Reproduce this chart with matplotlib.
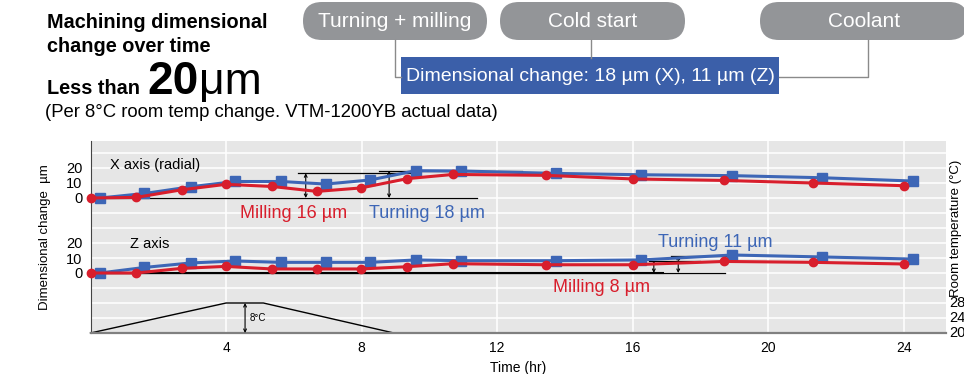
import matplotlib
matplotlib.use("Agg")
import matplotlib.pyplot as plt
from matplotlib.patches import FancyBboxPatch, Rectangle

plt.rcParams['font.family'] = ['Liberation Sans', 'DejaVu Sans']

# data (hours, micrometres, deg C)
hours_turn = [0.28, 1.59, 2.96, 4.27, 5.62, 6.94, 8.25, 9.59, 10.94, 13.72, 16.24, 18.94, 21.59, 24.27]
hours_mill = [0.0, 1.35, 2.70, 3.99, 5.35, 6.68, 7.98, 9.34, 10.70, 13.44, 16.00, 18.70, 21.32, 24.00]
x_turn = [0, 3, 7.5, 11, 11, 9.3, 12, 18.2, 18, 16.4, 15.5, 14.9, 13.5, 11.3]
x_mill = [0, 0.4, 5.5, 9.1, 7.7, 4.4, 6.7, 12.9, 15.7, 15.1, 12.7, 11.7, 10, 8.2]
z_turn = [0, 3.7, 6.7, 8, 7.1, 7.1, 7.1, 8.7, 8.2, 8.2, 8.7, 12, 10.7, 9.3]
z_mill = [0, 0, 3.1, 4.4, 2.7, 2.7, 2.7, 4.2, 6.2, 5.5, 5.5, 7.7, 7.1, 6]
temp_hours = [0, 4, 5.1, 8.95]
temp_c = [20, 28, 28, 20]
xticks = [4, 8, 12, 16, 20, 24]
temp_ticks = [20, 24, 28]

pills = ["Turning + milling", "Cold start", "Coolant"]

RED = "#d81e2c"
BLUE = "#3d66b6"
X_OFF = 90    # where the X-axis panel sits on the shared y scale
Z_OFF = 40


def temp_y(t):
    return (t - 20) * 2.5


fig = plt.figure(figsize=(9.64, 3.74), dpi=100)

# ---- header drawn in pixel coordinates ----
hd = fig.add_axes([0, 0, 1, 1])
hd.set_xlim(0, 964)
hd.set_ylim(374, 0)
hd.axis("off")

hd.text(47, 27.5, "Machining dimensional", fontsize=14.3, fontweight="bold", va="baseline")
hd.text(47, 52, "change over time", fontsize=14.3, fontweight="bold", va="baseline")
hd.text(47, 94, "Less than", fontsize=14.3, fontweight="bold", va="baseline")
hd.text(147, 94, "20", fontsize=33, fontweight="bold", va="baseline")
hd.text(199, 94, "μm", fontsize=32, va="baseline")
hd.text(45, 117, "(Per 8°C room temp change. VTM-1200YB actual data)", fontsize=13.35, va="baseline")

pill_x = [(303, 487), (500, 685), (760, 968)]
for (x0, x1), name in zip(pill_x, pills):
    hd.add_patch(FancyBboxPatch((x0, 2), x1 - x0, 38,
                                boxstyle="round,pad=0,rounding_size=19",
                                fc="#939598", ec="none"))
    hd.text((x0 + x1) / 2, 21.5, name, color="white", fontsize=15, ha="center", va="center")

gray = "#8a8a8a"
hd.plot([395, 395, 401], [40, 76.7, 76.7], color=gray, lw=1)
hd.plot([590.7, 590.7], [40, 58], color=gray, lw=1)
hd.plot([868.3, 868.3, 779], [40, 76.7, 76.7], color=gray, lw=1)
hd.add_patch(Rectangle((400.7, 57.3), 378.3, 37, fc="#3b5fa9", ec="none"))
hd.text(590.5, 76.5, "Dimensional change: 18 µm (X), 11 µm (Z)", color="white",
        fontsize=14, ha="center", va="center")

# ---- main chart ----
ax = fig.add_axes([90.5 / 964, 41 / 374, (946 - 90.5) / 964, 192 / 374])
ax.set_facecolor("#e6e6e6")
ax.set_xlim(0, 25.24)
ax.set_ylim(0, 128)

for v in range(10, 128, 10):
    ax.axhline(v, color="white", lw=1.1, zorder=0)
for v in xticks:
    ax.axvline(v, color="white", lw=1.1, zorder=0)

ax.set_xticks(xticks)
ax.set_xticklabels([str(v) for v in xticks], fontsize=10)
ax.set_yticks([Z_OFF, Z_OFF + 10, Z_OFF + 20, X_OFF, X_OFF + 10, X_OFF + 20])
ax.set_yticklabels(["0", "10", "20", "0", "10", "20"], fontsize=10.5)
ax.tick_params(length=0)
ax.tick_params(axis="y", pad=6)
ax.tick_params(axis="x", pad=6)
for s in ["top", "right"]:
    ax.spines[s].set_visible(False)
ax.spines["left"].set_color("#444444")
ax.spines["left"].set_linewidth(0.8)
ax.spines["bottom"].set_color("#808080")
ax.spines["bottom"].set_linewidth(1.6)

# baselines and measuring marks
k = dict(color="black", lw=0.9, zorder=2)
ax.plot([0, 11.4], [X_OFF, X_OFF], **k)
ax.plot([6.13, 9.47], [X_OFF + 16.5, X_OFF + 16.5], **k)
ax.plot([8.52, 12.72], [X_OFF + 18.2, X_OFF + 18.2], **k)
ax.plot([0, 16.9], [Z_OFF, Z_OFF], color="black", lw=1.5, zorder=2)
ax.plot([0, 18.72], [Z_OFF, Z_OFF], **k)
ax.plot([17.13, 18.87], [Z_OFF + 11.5, Z_OFF + 11.5], **k)
ax.plot([16.48, 17.98], [Z_OFF + 8.3, Z_OFF + 8.3], **k)

arr = dict(arrowstyle="<->", lw=0.8, color="black", shrinkA=0, shrinkB=0, mutation_scale=5)
ax.annotate("", xy=(6.35, X_OFF), xytext=(6.35, X_OFF + 16.5), arrowprops=arr)
ax.annotate("", xy=(8.81, X_OFF), xytext=(8.81, X_OFF + 18.2), arrowprops=arr)
ax.annotate("", xy=(16.62, Z_OFF), xytext=(16.62, Z_OFF + 8.3), arrowprops=arr)
ax.annotate("", xy=(17.34, Z_OFF), xytext=(17.34, Z_OFF + 11.5), arrowprops=arr)

# room temperature profile
ax.plot(temp_hours, [temp_y(t) for t in temp_c], color="black", lw=1.0, zorder=2, clip_on=False)
ax.annotate("", xy=(4.56, temp_y(20)), xytext=(4.56, temp_y(28)), arrowprops=arr)
ax.text(4.7, temp_y(24), "8°C", fontsize=7, va="center")

# series
for off, turn, mill in [(X_OFF, x_turn, x_mill), (Z_OFF, z_turn, z_mill)]:
    ax.plot(hours_turn, [off + v for v in turn], color=BLUE, lw=2.2, marker="s",
            ms=6.5, zorder=3, clip_on=False)
    ax.plot(hours_mill, [off + v for v in mill], color=RED, lw=2.2, marker="o",
            ms=6, zorder=4, clip_on=False)

ax.text(0.58, X_OFF + 22, "X axis (radial)", fontsize=10.5, va="center")
ax.text(1.17, Z_OFF + 19.5, "Z axis", fontsize=10.5, va="center")
ax.text(5.99, X_OFF - 10, "Milling 16 µm", color=RED, fontsize=13, ha="center", va="center")
ax.text(9.94, X_OFF - 10, "Turning 18 µm", color=BLUE, fontsize=13, ha="center", va="center")
ax.text(18.42, Z_OFF + 20.5, "Turning 11 µm", color=BLUE, fontsize=13, ha="center", va="center")
ax.text(15.07, Z_OFF - 10, "Milling 8 µm", color=RED, fontsize=13, ha="center", va="center")

ax.set_xlabel("Time (hr)", fontsize=10, labelpad=4)

# right temperature scale
for t in temp_ticks:
    ax.text(1.004, temp_y(t) / 128, str(t), transform=ax.transAxes, fontsize=10.5,
            va="center", ha="left", clip_on=False)
fig.text(956 / 964, 1 - 228 / 374, "Room temperature (°C)", rotation=90,
         fontsize=9.5, ha="center", va="center")
fig.text(45 / 964, 1 - 237 / 374, "Dimensional change  µm", rotation=90,
         fontsize=9.5, ha="center", va="center")

fig.savefig("out.png", dpi=100)
